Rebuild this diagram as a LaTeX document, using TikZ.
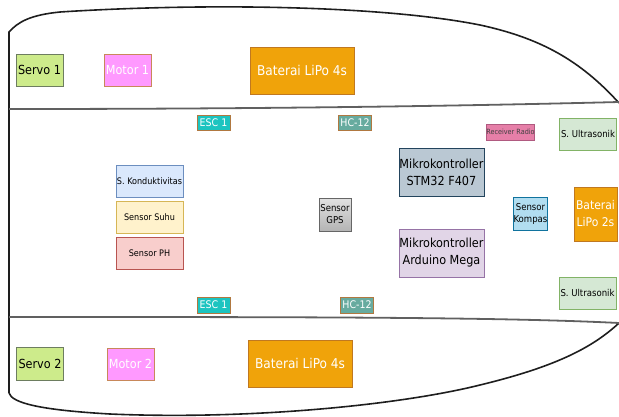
\documentclass[tikz,border=0pt]{standalone}
\usepackage{fontspec}
\setmainfont{DejaVu Sans Condensed}
\newcommand\fsz[2]{\fontsize{#1}{#2}\selectfont}
\definecolor{servoF}{HTML}{CDEB8B}\definecolor{servoD}{HTML}{6D7D60}
\definecolor{motorF}{HTML}{FF99FF}\definecolor{motorD}{HTML}{C8885A}
\definecolor{batF}{HTML}{F0A30A}\definecolor{batD}{HTML}{C07820}
\definecolor{escF}{HTML}{1CC4C0}\definecolor{brownD}{HTML}{B07840}
\definecolor{hcF}{HTML}{67AB9F}
\definecolor{recvF}{HTML}{E67FA8}\definecolor{recvD}{HTML}{B05A80}
\definecolor{usF}{HTML}{D5E8D4}\definecolor{usD}{HTML}{82B366}
\definecolor{konF}{HTML}{DAE8FC}\definecolor{konD}{HTML}{6C8EBF}
\definecolor{suhF}{HTML}{FFF2CC}\definecolor{suhD}{HTML}{D6B656}
\definecolor{phF}{HTML}{F8CECC}\definecolor{phD}{HTML}{B85450}
\definecolor{gpsF}{HTML}{C8C8C8}\definecolor{gpsD}{HTML}{666666}
\definecolor{stmF}{HTML}{BAC8D3}\definecolor{stmD}{HTML}{23445D}
\definecolor{ardF}{HTML}{E1D5E7}\definecolor{ardD}{HTML}{9673A6}
\definecolor{komF}{HTML}{B1DDF0}\definecolor{komD}{HTML}{10739E}
\definecolor{hullC}{HTML}{1E1E1E}\definecolor{deckC}{HTML}{606060}
\begin{document}
\begin{tikzpicture}[x=1pt,y=-1pt,
  hull/.style={draw=hullC,line width=1.6pt},
  deck/.style={draw=deckC,line width=1.8pt},
  box/.style={draw,line width=1pt,inner sep=0pt,align=center,anchor=center},
  servobox/.style={box,fill=servoF,draw=servoD,minimum width=47pt,minimum height=32pt,font=\fsz{12.5}{14}},
  motorbox/.style={box,fill=motorF,draw=motorD,text=white,minimum width=47pt,minimum height=32pt,font=\fsz{12.5}{14}},
  batbox/.style={box,fill=batF,draw=batD,text=white,minimum width=104pt,minimum height=47pt,font=\fsz{13.5}{16}},
  tagbox/.style={box,draw=brownD,text=white,minimum width=33pt,minimum height=15pt,font=\fsz{10.5}{12}},
  usbox/.style={box,fill=usF,draw=usD,minimum width=57pt,minimum height=32pt,font=\fsz{9.5}{11}},
  sensbox/.style={box,minimum width=67pt,minimum height=32pt,font=\fsz{9}{10}},
  smallbox/.style={box,minimum width=33pt,minimum height=33pt,font=\fsz{9.5}{12}},
  mcubox/.style={box,minimum width=85pt,minimum height=48pt,font=\fsz{12.5}{17}}]
\useasboundingbox (0,0) rectangle (619,416);
% hull
\draw[hull] (9,393) -- (9,32) .. controls (18,22) and (30,15) .. (60,12)
  .. controls (200,3) and (380,5) .. (480,25)
  .. controls (540,38) and (580,60) .. (619,103);
\draw[hull] (9,393) .. controls (12,403) and (40,410) .. (110,414)
  .. controls (250,420) and (400,405) .. (480,385)
  .. controls (550,368) and (590,350) .. (619,323);
\draw[deck] (9,109) .. controls (300,109) and (500,105) .. (619,102);
\draw[deck] (9,317) .. controls (300,317) and (500,317) .. (619,323);
% top compartment
\node[servobox] (servo1) at (39.5,70) {Servo 1};
\node[motorbox] (motor1) at (127.5,70.5) {Motor 1};
\node[batbox] (bat4a) at (302,70.5) {Baterai LiPo 4s};
% middle
\node[tagbox,fill=escF] (esc1a) at (213.5,122.5) {ESC 1};
\node[tagbox,fill=hcF] (hc1a) at (355,122.5) {HC-12};
\node[box,fill=recvF,draw=recvD,text=black!75,minimum width=47pt,minimum height=16pt,font=\fsz{7.2}{8}] (recv) at (510.5,132) {Receiver Radio};
\node[usbox] (us1) at (588,134) {S. Ultrasonik};
\node[sensbox,fill=konF,draw=konD] (kond) at (149.5,181) {S. Konduktivitas};
\node[sensbox,fill=suhF,draw=suhD] (suhu) at (149.5,217) {Sensor Suhu};
\node[sensbox,fill=phF,draw=phD] (ph) at (149.5,253) {Sensor PH};
\node[smallbox,top color=gpsF!55!white,bottom color=gpsF!90!black,draw=gpsD,minimum width=32pt] (gps) at (335,214.5) {Sensor\\GPS};
\node[mcubox,fill=stmF,draw=stmD] (stm) at (441.5,172) {Mikrokontroller\\STM32 F407};
\node[mcubox,fill=ardF,draw=ardD] (ard) at (441.5,253) {Mikrokontroller\\Arduino Mega};
\node[smallbox,fill=komF,draw=komD] (kompas) at (530.5,213.5) {Sensor\\Kompas};
\node[box,fill=batF,draw=batD,text=white,minimum width=43pt,minimum height=54pt,font=\fsz{12}{17}] (bat2) at (595.5,214) {Baterai\\LiPo 2s};
\node[usbox] (us2) at (587.5,293) {S. Ultrasonik};
\node[tagbox,fill=escF,minimum height=16pt] (esc1b) at (213.5,305) {ESC 1};
\node[tagbox,fill=hcF,minimum height=16pt] (hc1b) at (357,305) {HC-12};
% bottom compartment
\node[servobox,minimum height=33pt] (servo2) at (40,363.5) {Servo 2};
\node[motorbox] (motor2) at (130.5,364) {Motor 2};
\node[batbox] (bat4b) at (300,363.5) {Baterai LiPo 4s};
\end{tikzpicture}
\end{document}
